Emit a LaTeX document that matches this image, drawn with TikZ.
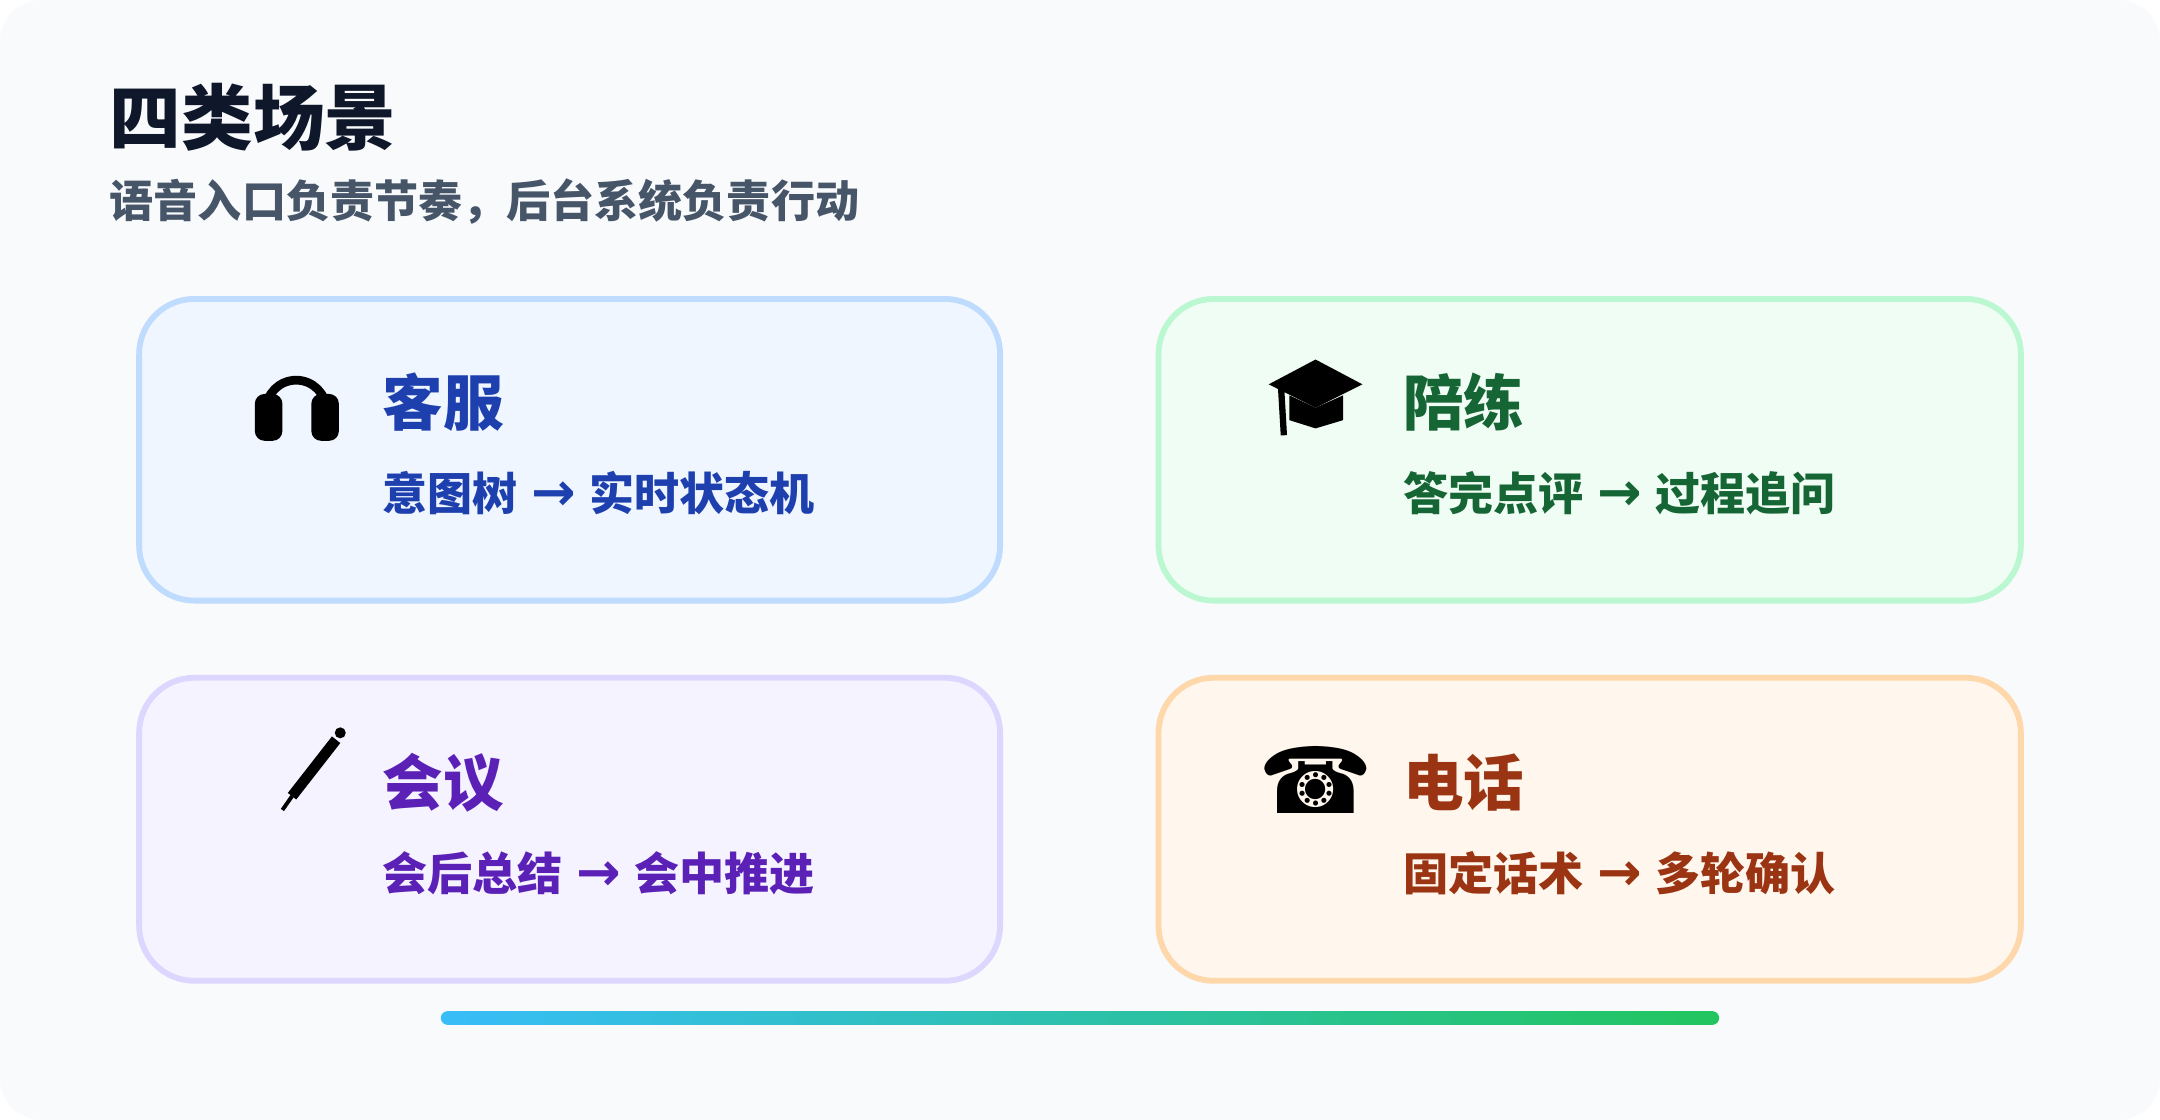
\documentclass[tikz,border=0pt]{standalone}
\usepackage{fontspec}
\setmainfont{Noto Sans CJK SC}
\newfontfamily\symfont{DejaVu Sans}
\usetikzlibrary{positioning}
\definecolor{bgc}{HTML}{F8FAFC}
\definecolor{titlec}{HTML}{0F172A}
\definecolor{subc}{HTML}{475569}
\definecolor{bluefill}{HTML}{EFF6FF}\definecolor{blueline}{HTML}{BFDBFE}\definecolor{bluetext}{HTML}{1E40AF}
\definecolor{greenfill}{HTML}{F0FDF4}\definecolor{greenline}{HTML}{BBF7D0}\definecolor{greentext}{HTML}{166534}
\definecolor{purplefill}{HTML}{F5F3FF}\definecolor{purpleline}{HTML}{DDD6FE}\definecolor{purpletext}{HTML}{5B21B6}
\definecolor{orangefill}{HTML}{FFF7ED}\definecolor{orangeline}{HTML}{FED7AA}\definecolor{orangetext}{HTML}{9A3412}
\definecolor{barleft}{HTML}{38BDF8}\definecolor{barright}{HTML}{22C55E}
\newcommand{\arr}{\hspace{0.3em}{\symfont\fontsize{11}{10}\selectfont →}\hspace{0.3em}}
\begin{document}
\begin{tikzpicture}[x=0.01cm,y=-0.01cm,
  card/.style={rounded corners=0.4cm,line width=1.2pt},
  head/.style={anchor=west,inner sep=0pt,font=\bfseries\fontsize{12.5}{14}\selectfont},
  line/.style={anchor=west,inner sep=0pt,font=\bfseries\fontsize{9.3}{10}\selectfont}]
	
	\fill[white] (0,0) rectangle (1568,813);
	\fill[bgc,rounded corners=0.3cm] (0,0) rectangle (1568,813);
	
	\node[anchor=west,inner sep=0pt,text=titlec,font=\bfseries\fontsize{14.8}{16}\selectfont] (title) at (79,85) {四类场景};
	\node[anchor=west,inner sep=0pt,text=subc,font=\bfseries\fontsize{9.1}{10}\selectfont] (sub) at (79,146) {语音入口负责节奏，后台系统负责行动};
	
	% cards
	\draw[card,fill=bluefill,draw=blueline] (101,217) rectangle (726,436);
	\draw[card,fill=greenfill,draw=greenline] (841,217) rectangle (1467,436);
	\draw[card,fill=purplefill,draw=purpleline] (101,492) rectangle (726,712);
	\draw[card,fill=orangefill,draw=orangeline] (841,492) rectangle (1467,712);
	
	\node[head,text=bluetext] (kefu) at (277,292) {客服};
	\node[line,text=bluetext] (kefusub) at (277,358) {意图树\arr 实时状态机};
	\node[head,text=greentext] (peilian) at (1018,292) {陪练};
	\node[line,text=greentext] (peiliansub) at (1018,358) {答完点评\arr 过程追问};
	\node[head,text=purpletext] (huiyi) at (277,568) {会议};
	\node[line,text=purpletext] (huiyisub) at (277,634) {会后总结\arr 会中推进};
	\node[head,text=orangetext] (dianhua) at (1018,568) {电话};
	\node[line,text=orangetext] (dianhuasub) at (1018,634) {固定话术\arr 多轮确认};
	
	% icons
	\draw[line width=1.8pt] (193,298) arc[start angle=180,end angle=360,radius=22];
	\fill[rounded corners=2pt] (185,286) rectangle (205,320);
	\fill[rounded corners=2pt] (226,286) rectangle (246,320);
	\fill (921,279) -- (955,261) -- (989,279) -- (955,296) -- cycle;
	\fill (936,287) -- (955,296) -- (975,287) -- (975,305) -- (955,311) -- (936,305) -- cycle;
	\draw[line width=1.3pt] (930,282) -- (932,316);
	\draw[line width=2.2pt] (244,537) -- (212,578);
	\fill (247,532) circle (4);
	\draw[line width=0.8pt] (212,578) -- (205,588);
	\node[font=\symfont\fontsize{19}{19}\selectfont] (phone) at (955,566) {☎};
	
	% bar
	\shade[left color=barleft,right color=barright,rounded corners=0.05cm] (320,734) rectangle (1248,744);
\end{tikzpicture}
\end{document}
